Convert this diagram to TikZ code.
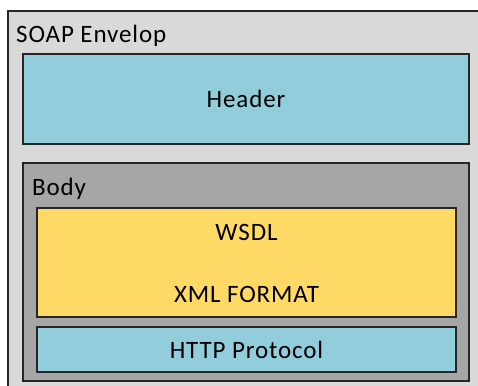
\documentclass[tikz,border=0pt]{standalone}
\usepackage{fontspec}
\setmainfont[LetterSpace=3.5]{Carlito}
\definecolor{envgrey}{HTML}{D9D9D9}
\definecolor{hdrblue}{HTML}{92CDDC}
\definecolor{bodygrey}{HTML}{A6A6A6}
\definecolor{wsdlyellow}{HTML}{FFD966}
\definecolor{edge}{HTML}{262626}
\begin{document}
\begin{tikzpicture}[x=1bp,y=-1bp,
  every node/.style={font=\fontsize{25bp}{30bp}\selectfont, text=black},
  panel/.style={draw=edge, line width=1.2bp, rectangle, inner sep=0pt},
  lbl/.style={anchor=base west, inner sep=0pt}]
\useasboundingbox (0,0) rectangle (478,385);
\clip (0,0) rectangle (478,385);
\fill[white] (0,0) rectangle (478,385);
\draw[panel, fill=envgrey] (8,11) rectangle (490,400);
\node[lbl] (envlabel) at (16,42) {SOAP Envelop};
\node[panel, fill=hdrblue, minimum width=446bp, minimum height=90bp] (header) at (246,99) {Header};
\node[panel, fill=bodygrey, minimum width=446bp, minimum height=218bp] (body) at (246,272) {};
\node[lbl] (bodylabel) at (32,195) {Body};
\node[panel, fill=wsdlyellow, minimum width=419bp, minimum height=109bp] (wsdl) at (246.5,262.5) {};
\node[anchor=base, inner sep=0pt] (wsdltext) at (246.5,240) {WSDL};
\node[anchor=base, inner sep=0pt] (xmltext) at (246.5,302) {XML FORMAT};
\node[panel, fill=hdrblue, minimum width=419bp, minimum height=45bp] (http) at (246.5,349.5) {HTTP Protocol};
\end{tikzpicture}
\end{document}
